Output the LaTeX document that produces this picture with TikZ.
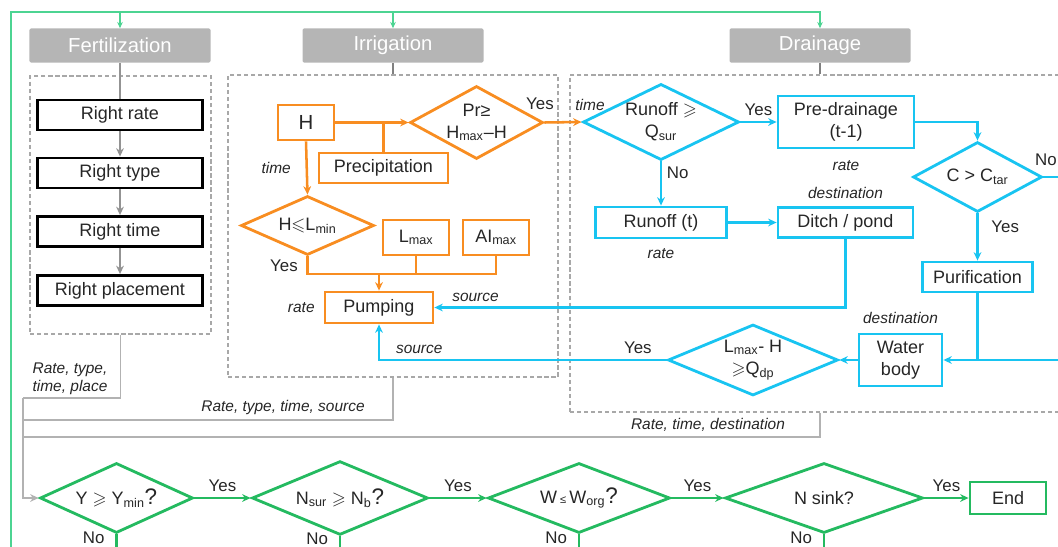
\documentclass[tikz,border=0pt]{standalone}
\usepackage{amsmath,amssymb}
\usepackage{fontspec}
\setmainfont{Liberation Sans}
\usepackage{xcolor}
\usepackage{tikz}
\usetikzlibrary{arrows.meta,positioning,shapes.geometric,calc}
\definecolor{irrorange}{RGB}{248,141,33}
\definecolor{drainblue}{RGB}{24,196,241}
\definecolor{evalgreen}{RGB}{36,186,96}
\definecolor{loopgreen}{RGB}{76,212,146}
\definecolor{headgray}{RGB}{181,181,181}
\definecolor{dashgray}{RGB}{168,168,168}
\definecolor{outgray}{RGB}{178,178,178}
\newcommand{\qmark}{{\fontsize{16}{16}\selectfont ?}}

\begin{document}
\begin{tikzpicture}[
    x=0.25mm, y=-0.25mm, % 1 unit = 1 px of the layout
    >={Stealth[length=6pt,width=5.5pt]},
    % Text styles
    boxtext/.style={font=\fontsize{12.8}{15.5}\selectfont, text=black!85},
    notetext/.style={font=\fontsize{11}{13}\selectfont\itshape, text=black!85},
    answertext/.style={font=\fontsize{12}{14}\selectfont, text=black!85},
    % Headers and dashed areas
    header/.style={rectangle, rounded corners=1pt, fill=headgray, text=white, font=\fontsize{14.4}{16}\selectfont, minimum width=45.25mm, minimum height=8.5mm},
    area/.style={rectangle, draw=dashgray, line width=0.8pt, dash pattern=on 3pt off 2pt, inner sep=0pt},
    % Boxes
    component/.style={rectangle, boxtext, line width=2pt, inner sep=1pt, align=center},
    fertbox/.style={component, draw=black, minimum width=41.25mm, minimum height=7.5mm},
    irrbox/.style={component, draw=irrorange},
    drainbox/.style={component, draw=drainblue},
    evalbox/.style={component, draw=evalgreen},
    % Decisions
    decision/.style={diamond, boxtext, line width=2pt, inner sep=-6pt, align=center},
    irrdecision/.style={decision, draw=irrorange},
    draindecision/.style={decision, draw=drainblue},
    evaldecision/.style={decision, draw=evalgreen, minimum height=17.5mm},
    % Connections
    fertflow/.style={->, line width=1.4pt, draw=gray!85},
    irrflow/.style={line width=1.8pt, draw=irrorange},
    drainflow/.style={line width=1.8pt, draw=drainblue},
    evalflow/.style={line width=1.8pt, draw=evalgreen},
    loopflow/.style={line width=1pt, draw=loopgreen, >={Stealth[length=4.5pt,width=4pt]}},
    output/.style={line width=1pt, draw=outgray}
]
\useasboundingbox (0,0) rectangle (1058,547);

% === HEADERS ===
\node[header] (fert) at (120,45.5) {Fertilization};
\node[header] (irr) at (393,45.5) {Irrigation};
\node[header] (drain) at (820,45.5) {Drainage};

% === DASHED AREAS ===
\node[area, minimum width=45.25mm, minimum height=64.5mm] (fertarea) at (120.5,205) {};
\node[area, minimum width=82.5mm, minimum height=75.5mm] (irrarea) at (393,226) {};
\node[area, minimum width=126.25mm, minimum height=84.25mm] (drainarea) at (822.5,243.5) {};

% === FERTILIZATION ===
\node[fertbox] (frate) at (120,115) {Right rate};
\node[fertbox] (ftype) at (120,173) {Right type};
\node[fertbox] (ftime) at (120,231.5) {Right time};
\node[fertbox] (fplace) at (120,290.5) {Right placement};
\draw[fertflow, -] (fert) -- (frate);
\draw[fertflow] (frate) -- (ftype);
\draw[fertflow] (ftype) -- (ftime);
\draw[fertflow] (ftime) -- (fplace);

% === IRRIGATION ===
\draw[output, line width=1.4pt, draw=gray] (irr) -- (irrarea.north);
\node[irrbox, minimum width=14mm, minimum height=8.75mm, font=\fontsize{14.5}{16}\selectfont] (level) at (306,122.5) {H};
\node[irrbox, minimum width=32.25mm, minimum height=7.5mm] (precip) at (383.5,168) {Precipitation};
\node[irrdecision, minimum width=33.25mm, minimum height=18.25mm] (prcheck) at (476.5,122.5) {Pr≥\\H\textsubscript{max}–H};
\node[irrdecision, minimum width=33.25mm, minimum height=14.75mm] (lowcheck) at (307.5,225.5) {H$\leqslant$L\textsubscript{min}};
\node[irrbox, minimum width=16.5mm, minimum height=8.75mm] (lmax) at (416,237.5) {L\textsubscript{max}};
\node[irrbox, minimum width=16.5mm, minimum height=8.75mm] (aimax) at (496,237.5) {AI\textsubscript{max}};
\node[irrbox, minimum width=27mm, minimum height=7.75mm] (pump) at (379,307.5) {Pumping};
\node[notetext, left=1mm of pump] {rate};
\coordinate (irrjoin) at (379,274);

\draw[irrflow, ->] (level.east) -- (prcheck.west);
\draw[irrflow] (precip.north) -- (precip.north |- level.east);
\draw[irrflow, ->] (level.south) -- node[notetext, left=2.5mm] {time} (lowcheck.north);
\draw[irrflow] (lowcheck.south) |- (irrjoin -| aimax.south) -- (aimax.south);
\draw[irrflow] (lmax.south) -- (lmax.south |- irrjoin);
\draw[irrflow, ->] (irrjoin) -- (pump.north);
\node[answertext] at (284,266) {Yes};
\node[answertext] at (540,104) {Yes};

% === DRAINAGE ===
\draw[output, line width=1.4pt, draw=gray] (drain) -- (drain |- drainarea.north);
\node[draindecision, minimum width=39mm, minimum height=17mm] (runoff) at (661,122) {Runoff $\geqslant$\\Q\textsubscript{sur}};
\node[drainbox, minimum width=34mm, minimum height=13mm] (predrain) at (846,122) {Pre-drainage\\(t-1)};
\node[draindecision, minimum width=32.25mm, minimum height=17.5mm] (conc) at (977.5,177) {C > C\textsubscript{tar}};
\node[drainbox, minimum width=32.75mm, minimum height=7.75mm] (runofft) at (661,222.5) {Runoff (t)};
\node[drainbox, minimum width=33.75mm, minimum height=7.5mm] (ditch) at (845.5,222.5) {Ditch / pond};
\node[drainbox, minimum width=27.5mm, minimum height=7.5mm] (purif) at (977.5,277) {Purification};
\node[drainbox, minimum width=20.75mm, minimum height=13mm] (water) at (900.5,360) {Water\\body};
\node[draindecision, minimum width=42.5mm, minimum height=17.75mm] (depth) at (753,360) {L\textsubscript{max}- H\\$\geqslant$Q\textsubscript{dp}};

\draw[irrflow, ->] (prcheck.east) -- (runoff.west);
\draw[drainflow, ->] (runoff.east) -- node[answertext, above] {Yes} (predrain.west);
\draw[drainflow, ->] (runoff.south) -- node[answertext, right, pos=0.25] {No} (runofft.north);
\draw[drainflow, ->] (predrain.east) -| (conc.north);
\draw[drainflow, ->] (conc.south) -- node[answertext, right=2mm, pos=0.28] {Yes} (purif.north);
\draw[drainflow, ->] (runofft.east) -- (ditch.west);
\draw[drainflow, ->] (ditch.south) |- node[notetext, above, pos=0.95] {source} (pump.east);
\draw[drainflow] (purif.south) -- (purif.south |- water.east);
\draw[drainflow, ->] (conc.east) -- ++(30,0) |- (water.east);
\node[answertext, inner sep=1pt] at (1046,160) {No};
\draw[drainflow, ->] (water.west) -- (depth.east);
\draw[drainflow, ->] (depth.west) -| node[answertext, above, pos=0.05] {Yes} node[notetext, above, pos=0.43] {source} (pump.south);
\node[notetext] at (590,105) {time};
\node[notetext, below=1.5mm of predrain] {rate};
\node[notetext, below=1mm of runofft] {rate};
\node[notetext, above=0.5mm of ditch] {destination};
\node[notetext, above=1mm of water] {destination};

% === EVALUATION ===
\coordinate (floor) at (0,552);
\node[evaldecision, minimum width=38.25mm] (yield) at (116.5,498) {Y $\geqslant$ Y\textsubscript{min}\qmark};
\node[evaldecision, minimum width=44mm] (surplus) at (340,498) {N\textsubscript{sur} $\geqslant$ N\textsubscript{b}\qmark};
\node[evaldecision, minimum width=45.5mm] (wcheck) at (579,498) {W\,{\footnotesize ≤}\,W\textsubscript{org}\qmark};
\node[evaldecision, minimum width=49.5mm] (sink) at (824,498) {N sink?};
\node[evalbox, minimum width=19mm, minimum height=8mm] (finish) at (1008,498) {End};

\draw[evalflow, ->] (yield.east) -- node[answertext, above] {Yes} (surplus.west);
\draw[evalflow, ->] (surplus.east) -- node[answertext, above] {Yes} (wcheck.west);
\draw[evalflow, ->] (wcheck.east) -- node[answertext, above] {Yes} (sink.west);
\draw[evalflow, ->] (sink.east) -- node[answertext, above] {Yes} (finish.west);
\foreach \chk in {yield, surplus, wcheck, sink}
    \draw[evalflow] (\chk.south) -- node[answertext, left=2.5mm, pos=0.18, inner sep=0.5pt] {No} (\chk.south |- floor);

% === OUTPUTS ===
\coordinate (busfert) at (23,398);
\coordinate (busirr) at (23,420);
\coordinate (busdrain) at (23,437);
\draw[output] (fertarea.south) |- (busfert);
\draw[output] (irrarea.south) |- (busirr);
\draw[output] (drain |- drainarea.south) |- (busdrain);
\draw[output, ->] (busfert) |- (yield.west);
\node[notetext, align=right] at (70,379) {Rate, type,\\time, place};
\node[notetext] at (283,407) {Rate, type, time, source};
\node[notetext] at (708,425) {Rate, time, destination};

% === LOOP ===
\coordinate (loopcorner) at (11,12);
\draw[loopflow, ->] (loopcorner |- floor) -- (loopcorner) -| (drain.north);
\draw[loopflow, ->] (loopcorner -| fert) -- (fert.north);
\draw[loopflow, ->] (loopcorner -| irr) -- (irr.north);

\end{tikzpicture}
\end{document}
